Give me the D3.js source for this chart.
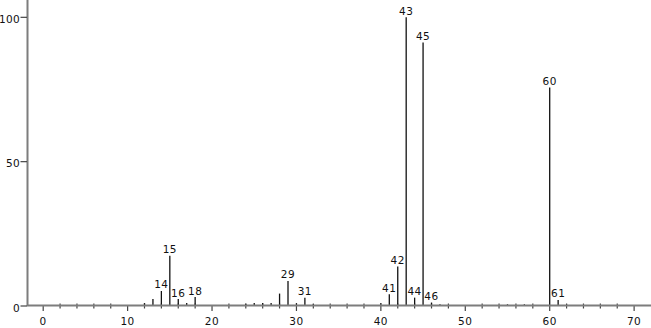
<!DOCTYPE html>
<html><head><meta charset="utf-8">
<script src="https://cdn.jsdelivr.net/npm/d3@7"></script>
<style>html,body{margin:0;padding:0;background:#fff;}svg{display:block;}</style>
</head><body>
<script>
// m/z values and relative intensities
const mz =        [12, 13, 14,  15,  16,  17, 18,  24,  25, 26, 27, 28,  29,  30, 31,  32,  40, 41,  42,   43,  44,  45,  46,  47,  55,  57,  60,  61,  62];
const intensity = [1.0,2.4,5.2,17.4, 2.4, 1.0,3.1, 0.8, 1.0,1.0,1.0,4.3, 8.7, 1.0,2.9, 0.6, 1.0,4.1, 13.7, 100, 2.9, 91.3,1.2, 0.6, 0.6, 0.6, 75.7,2.1, 0.5];
const labeled = [14, 15, 16, 18, 29, 31, 41, 42, 43, 44, 45, 46, 60, 61];
const xTicks = [0, 10, 20, 30, 40, 50, 60, 70];
const yTicks = [0, 50, 100];

const W = 651, H = 328;
const svg = d3.select("body").append("svg").attr("width", W).attr("height", H);
const x = d3.scaleLinear().domain([-1.8, 72]).range([28, 651]);
const y = d3.scaleLinear().domain([0, 106]).range([306, 0]);
const axisColor = "#7d7d7d";
const font = "DejaVu Sans";

// minor ticks every 2
const minor = d3.range(0, 72, 2).filter(v => v % 10 !== 0);
svg.append("g").selectAll("line").data(minor).join("line")
  .attr("x1", d => x(d)).attr("x2", d => x(d))
  .attr("y1", 303.5).attr("y2", 308.5)
  .attr("stroke", "#444").attr("stroke-width", 1.2);

// major ticks
svg.append("g").selectAll("line").data(xTicks).join("line")
  .attr("x1", d => x(d)).attr("x2", d => x(d))
  .attr("y1", 305).attr("y2", 311)
  .attr("stroke", "#444").attr("stroke-width", 1.2);

svg.append("g").selectAll("text").data(xTicks).join("text")
  .attr("x", d => x(d)).attr("y", 324.5)
  .attr("text-anchor", "middle").attr("letter-spacing", 0.5)
  .attr("font-family", font).attr("font-size", 10.5).attr("fill", "#111")
  .text(d => d);

// peaks
svg.append("g").selectAll("line").data(mz).join("line")
  .attr("x1", d => x(d)).attr("x2", d => x(d))
  .attr("y1", y(0)).attr("y2", (d, i) => y(intensity[i]))
  .attr("stroke", "#111").attr("stroke-width", 1.3);

// peak labels
svg.append("g").selectAll("text").data(labeled).join("text")
  .attr("x", d => x(d)).attr("y", d => y(intensity[mz.indexOf(d)]) - 2.5)
  .attr("text-anchor", "middle").attr("letter-spacing", 0.5)
  .attr("font-family", font).attr("font-size", 10.5).attr("fill", "#111")
  .text(d => d);

// axes lines
svg.append("line").attr("x1", 27).attr("x2", 651).attr("y1", 305.5).attr("y2", 305.5)
  .attr("stroke", axisColor).attr("stroke-width", 2);
svg.append("line").attr("x1", 27.5).attr("x2", 27.5).attr("y1", 0).attr("y2", 306)
  .attr("stroke", axisColor).attr("stroke-width", 2);

// y ticks
svg.append("g").selectAll("line").data(yTicks).join("line")
  .attr("x1", 20.5).attr("x2", 27).attr("y1", d => y(d)).attr("y2", d => y(d))
  .attr("stroke", "#444").attr("stroke-width", 1.2);
svg.append("g").selectAll("text").data(yTicks).join("text")
  .attr("x", 20).attr("y", d => y(d) + 5.5)
  .attr("text-anchor", "end").attr("letter-spacing", 0.3)
  .attr("font-family", font).attr("font-size", 10.5).attr("fill", "#111")
  .text(d => d);
</script>
</body></html>
